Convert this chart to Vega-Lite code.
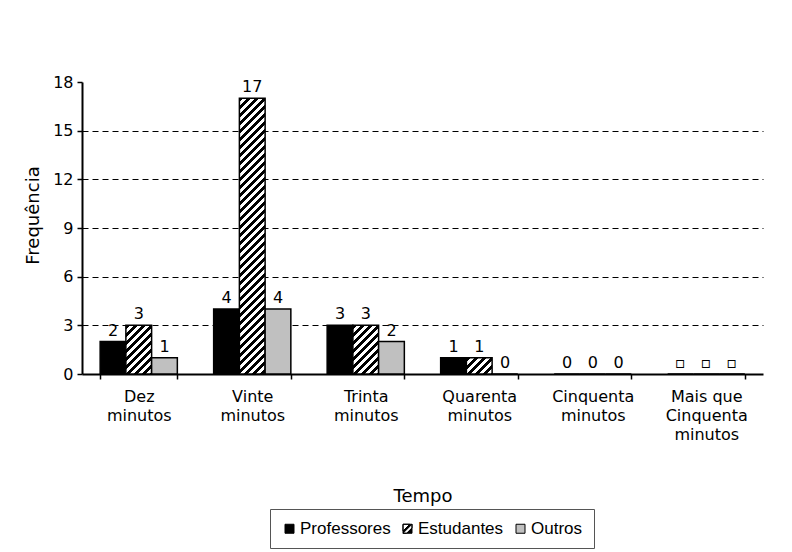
{
  "$schema": "https://vega.github.io/schema/vega-lite/v6.json",
  "width": 681,
  "height": 292,
  "autosize": {"type": "none"},
  "padding": {"left": 82, "top": 82, "right": 29, "bottom": 178},
  "background": "white",
  "config": {
    "font": "DejaVu Sans",
    "view": {"stroke": null},
    "axis": {
      "labelColor": "black",
      "labelFont": "DejaVu Sans",
      "labelFontSize": 15,
      "titleFont": "DejaVu Sans",
      "titleFontSize": 18,
      "titleFontWeight": "normal",
      "titleColor": "black",
      "domainColor": "black",
      "domainWidth": 2,
      "tickColor": "black",
      "tickWidth": 1.5,
      "tickSize": 5
    }
  },
  "data": {
    "values": [
      {"tempo": "Dez minutos", "grupo": "Professores", "valor": 2, "rotulo": "2"},
      {"tempo": "Dez minutos", "grupo": "Estudantes", "valor": 3, "rotulo": "3"},
      {"tempo": "Dez minutos", "grupo": "Outros", "valor": 1, "rotulo": "1"},
      {"tempo": "Vinte minutos", "grupo": "Professores", "valor": 4, "rotulo": "4"},
      {"tempo": "Vinte minutos", "grupo": "Estudantes", "valor": 17, "rotulo": "17"},
      {"tempo": "Vinte minutos", "grupo": "Outros", "valor": 4, "rotulo": "4"},
      {"tempo": "Trinta minutos", "grupo": "Professores", "valor": 3, "rotulo": "3"},
      {"tempo": "Trinta minutos", "grupo": "Estudantes", "valor": 3, "rotulo": "3"},
      {"tempo": "Trinta minutos", "grupo": "Outros", "valor": 2, "rotulo": "2"},
      {"tempo": "Quarenta minutos", "grupo": "Professores", "valor": 1, "rotulo": "1"},
      {"tempo": "Quarenta minutos", "grupo": "Estudantes", "valor": 1, "rotulo": "1"},
      {"tempo": "Quarenta minutos", "grupo": "Outros", "valor": 0, "rotulo": "0"},
      {"tempo": "Cinquenta minutos", "grupo": "Professores", "valor": 0, "rotulo": "0"},
      {"tempo": "Cinquenta minutos", "grupo": "Estudantes", "valor": 0, "rotulo": "0"},
      {"tempo": "Cinquenta minutos", "grupo": "Outros", "valor": 0, "rotulo": "0"},
      {"tempo": "Mais que Cinquenta minutos", "grupo": "Professores", "valor": 0, "rotulo": "▫"},
      {"tempo": "Mais que Cinquenta minutos", "grupo": "Estudantes", "valor": 0, "rotulo": "▫"},
      {"tempo": "Mais que Cinquenta minutos", "grupo": "Outros", "valor": 0, "rotulo": "▫"}
    ]
  },
  "encoding": {
    "x": {
      "field": "tempo",
      "type": "nominal",
      "sort": ["Dez minutos", "Vinte minutos", "Trinta minutos", "Quarenta minutos", "Cinquenta minutos", "Mais que Cinquenta minutos"],
      "scale": {"paddingInner": 0.32, "paddingOuter": 0.16},
      "title": "Tempo",
      "axis": {
        "labelAngle": 0,
        "tickBand": "extent",
        "labelPadding": 9,
        "labelLineHeight": 19,
        "labelFontSize": 16,
        "titlePadding": 45,
        "labelExpr": "datum.label == 'Mais que Cinquenta minutos' ? ['Mais que', 'Cinquenta', 'minutos'] : split(datum.label, ' ')"
      }
    },
    "xOffset": {
      "field": "grupo",
      "type": "nominal",
      "sort": ["Professores", "Estudantes", "Outros"],
      "scale": {"paddingInner": 0, "paddingOuter": 0}
    },
    "y": {
      "field": "valor",
      "type": "quantitative",
      "scale": {"domain": [0, 18], "nice": false},
      "title": "Frequência",
      "axis": {
        "values": [0, 3, 6, 9, 12, 15, 18],
        "grid": true,
        "gridColor": "black",
        "gridDash": [6, 4],
        "gridWidth": 1,
        "gridOpacity": {"condition": {"test": "datum.value == 18 || datum.value == 0", "value": 0}, "value": 1},
        "labelPadding": 4,
        "labelFontSize": 16,
        "titlePadding": 10,
        "titleY": 133
      }
    }
  },
  "layer": [
    {
      "mark": {"type": "bar", "stroke": "black", "strokeWidth": 1.5},
      "encoding": {
        "fill": {
          "condition": [
            {"test": "datum.grupo == 'Estudantes' && datum.valor == 17", "value": {"gradient": "linear", "x1": 0, "y1": 0, "x2": 0.13416, "y2": 1.43794, "stops": [
              {"offset":0,"color":"#000"},{"offset":0.01,"color":"#000"},{"offset":0.01,"color":"#fff"},{"offset":0.02,"color":"#fff"},
              {"offset":0.02,"color":"#000"},{"offset":0.03,"color":"#000"},{"offset":0.03,"color":"#fff"},{"offset":0.04,"color":"#fff"},
              {"offset":0.04,"color":"#000"},{"offset":0.05,"color":"#000"},{"offset":0.05,"color":"#fff"},{"offset":0.06,"color":"#fff"},
              {"offset":0.06,"color":"#000"},{"offset":0.07,"color":"#000"},{"offset":0.07,"color":"#fff"},{"offset":0.08,"color":"#fff"},
              {"offset":0.08,"color":"#000"},{"offset":0.09,"color":"#000"},{"offset":0.09,"color":"#fff"},{"offset":0.10,"color":"#fff"},
              {"offset":0.10,"color":"#000"},{"offset":0.11,"color":"#000"},{"offset":0.11,"color":"#fff"},{"offset":0.12,"color":"#fff"},
              {"offset":0.12,"color":"#000"},{"offset":0.13,"color":"#000"},{"offset":0.13,"color":"#fff"},{"offset":0.14,"color":"#fff"},
              {"offset":0.14,"color":"#000"},{"offset":0.15,"color":"#000"},{"offset":0.15,"color":"#fff"},{"offset":0.16,"color":"#fff"},
              {"offset":0.16,"color":"#000"},{"offset":0.17,"color":"#000"},{"offset":0.17,"color":"#fff"},{"offset":0.18,"color":"#fff"},
              {"offset":0.18,"color":"#000"},{"offset":0.19,"color":"#000"},{"offset":0.19,"color":"#fff"},{"offset":0.20,"color":"#fff"},
              {"offset":0.20,"color":"#000"},{"offset":0.21,"color":"#000"},{"offset":0.21,"color":"#fff"},{"offset":0.22,"color":"#fff"},
              {"offset":0.22,"color":"#000"},{"offset":0.23,"color":"#000"},{"offset":0.23,"color":"#fff"},{"offset":0.24,"color":"#fff"},
              {"offset":0.24,"color":"#000"},{"offset":0.25,"color":"#000"},{"offset":0.25,"color":"#fff"},{"offset":0.26,"color":"#fff"},
              {"offset":0.26,"color":"#000"},{"offset":0.27,"color":"#000"},{"offset":0.27,"color":"#fff"},{"offset":0.28,"color":"#fff"},
              {"offset":0.28,"color":"#000"},{"offset":0.29,"color":"#000"},{"offset":0.29,"color":"#fff"},{"offset":0.30,"color":"#fff"},
              {"offset":0.30,"color":"#000"},{"offset":0.31,"color":"#000"},{"offset":0.31,"color":"#fff"},{"offset":0.32,"color":"#fff"},
              {"offset":0.32,"color":"#000"},{"offset":0.33,"color":"#000"},{"offset":0.33,"color":"#fff"},{"offset":0.34,"color":"#fff"},
              {"offset":0.34,"color":"#000"},{"offset":0.35,"color":"#000"},{"offset":0.35,"color":"#fff"},{"offset":0.36,"color":"#fff"},
              {"offset":0.36,"color":"#000"},{"offset":0.37,"color":"#000"},{"offset":0.37,"color":"#fff"},{"offset":0.38,"color":"#fff"},
              {"offset":0.38,"color":"#000"},{"offset":0.39,"color":"#000"},{"offset":0.39,"color":"#fff"},{"offset":0.40,"color":"#fff"},
              {"offset":0.40,"color":"#000"},{"offset":0.41,"color":"#000"},{"offset":0.41,"color":"#fff"},{"offset":0.42,"color":"#fff"},
              {"offset":0.42,"color":"#000"},{"offset":0.43,"color":"#000"},{"offset":0.43,"color":"#fff"},{"offset":0.44,"color":"#fff"},
              {"offset":0.44,"color":"#000"},{"offset":0.45,"color":"#000"},{"offset":0.45,"color":"#fff"},{"offset":0.46,"color":"#fff"},
              {"offset":0.46,"color":"#000"},{"offset":0.47,"color":"#000"},{"offset":0.47,"color":"#fff"},{"offset":0.48,"color":"#fff"},
              {"offset":0.48,"color":"#000"},{"offset":0.49,"color":"#000"},{"offset":0.49,"color":"#fff"},{"offset":0.50,"color":"#fff"},
              {"offset":0.50,"color":"#000"},{"offset":0.51,"color":"#000"},{"offset":0.51,"color":"#fff"},{"offset":0.52,"color":"#fff"},
              {"offset":0.52,"color":"#000"},{"offset":0.53,"color":"#000"},{"offset":0.53,"color":"#fff"},{"offset":0.54,"color":"#fff"},
              {"offset":0.54,"color":"#000"},{"offset":0.55,"color":"#000"},{"offset":0.55,"color":"#fff"},{"offset":0.56,"color":"#fff"},
              {"offset":0.56,"color":"#000"},{"offset":0.57,"color":"#000"},{"offset":0.57,"color":"#fff"},{"offset":0.58,"color":"#fff"},
              {"offset":0.58,"color":"#000"},{"offset":0.59,"color":"#000"},{"offset":0.59,"color":"#fff"},{"offset":0.60,"color":"#fff"},
              {"offset":0.60,"color":"#000"},{"offset":0.61,"color":"#000"},{"offset":0.61,"color":"#fff"},{"offset":0.62,"color":"#fff"},
              {"offset":0.62,"color":"#000"},{"offset":0.63,"color":"#000"},{"offset":0.63,"color":"#fff"},{"offset":0.64,"color":"#fff"},
              {"offset":0.64,"color":"#000"},{"offset":0.65,"color":"#000"},{"offset":0.65,"color":"#fff"},{"offset":0.66,"color":"#fff"},
              {"offset":0.66,"color":"#000"},{"offset":0.67,"color":"#000"},{"offset":0.67,"color":"#fff"},{"offset":0.68,"color":"#fff"},
              {"offset":0.68,"color":"#000"},{"offset":0.69,"color":"#000"},{"offset":0.69,"color":"#fff"},{"offset":0.70,"color":"#fff"},
              {"offset":0.70,"color":"#000"},{"offset":0.71,"color":"#000"},{"offset":0.71,"color":"#fff"},{"offset":0.72,"color":"#fff"},
              {"offset":0.72,"color":"#000"},{"offset":0.73,"color":"#000"},{"offset":0.73,"color":"#fff"},{"offset":0.74,"color":"#fff"},
              {"offset":0.74,"color":"#000"},{"offset":0.75,"color":"#000"},{"offset":0.75,"color":"#fff"},{"offset":0.76,"color":"#fff"}
            ]}},
            {"test": "datum.grupo == 'Estudantes' && datum.valor == 3", "value": {"gradient": "linear", "x1": 0, "y1": 0, "x2": 3.3962, "y2": 6.4236, "stops": [
              {"offset":0,"color":"#000"},{"offset":0.01,"color":"#000"},{"offset":0.01,"color":"#fff"},{"offset":0.02,"color":"#fff"},
              {"offset":0.02,"color":"#000"},{"offset":0.03,"color":"#000"},{"offset":0.03,"color":"#fff"},{"offset":0.04,"color":"#fff"},
              {"offset":0.04,"color":"#000"},{"offset":0.05,"color":"#000"},{"offset":0.05,"color":"#fff"},{"offset":0.06,"color":"#fff"},
              {"offset":0.06,"color":"#000"},{"offset":0.07,"color":"#000"},{"offset":0.07,"color":"#fff"},{"offset":0.08,"color":"#fff"},
              {"offset":0.08,"color":"#000"},{"offset":0.09,"color":"#000"},{"offset":0.09,"color":"#fff"},{"offset":0.10,"color":"#fff"},
              {"offset":0.10,"color":"#000"},{"offset":0.11,"color":"#000"},{"offset":0.11,"color":"#fff"},{"offset":0.12,"color":"#fff"},
              {"offset":0.12,"color":"#000"},{"offset":0.13,"color":"#000"},{"offset":0.13,"color":"#fff"},{"offset":0.14,"color":"#fff"},
              {"offset":0.14,"color":"#000"},{"offset":0.15,"color":"#000"},{"offset":0.15,"color":"#fff"},{"offset":0.16,"color":"#fff"},
              {"offset":0.16,"color":"#000"},{"offset":0.17,"color":"#000"},{"offset":0.17,"color":"#fff"},{"offset":0.18,"color":"#fff"},
              {"offset":0.18,"color":"#000"},{"offset":0.19,"color":"#000"},{"offset":0.19,"color":"#fff"},{"offset":0.20,"color":"#fff"}
            ]}},
            {"test": "datum.grupo == 'Estudantes' && datum.valor == 1", "value": {"gradient": "linear", "x1": 0, "y1": 0, "x2": 11.124, "y2": 7.0135, "stops": [
              {"offset":0,"color":"#000"},{"offset":0.01,"color":"#000"},{"offset":0.01,"color":"#fff"},{"offset":0.02,"color":"#fff"},
              {"offset":0.02,"color":"#000"},{"offset":0.03,"color":"#000"},{"offset":0.03,"color":"#fff"},{"offset":0.04,"color":"#fff"},
              {"offset":0.04,"color":"#000"},{"offset":0.05,"color":"#000"},{"offset":0.05,"color":"#fff"},{"offset":0.06,"color":"#fff"},
              {"offset":0.06,"color":"#000"},{"offset":0.07,"color":"#000"},{"offset":0.07,"color":"#fff"},{"offset":0.08,"color":"#fff"},
              {"offset":0.08,"color":"#000"},{"offset":0.09,"color":"#000"},{"offset":0.09,"color":"#fff"},{"offset":0.10,"color":"#fff"},
              {"offset":0.10,"color":"#000"},{"offset":0.11,"color":"#000"},{"offset":0.11,"color":"#fff"},{"offset":0.12,"color":"#fff"}
            ]}}
          ],
          "field": "grupo",
          "type": "nominal",
          "sort": ["Professores", "Estudantes", "Outros"],
          "scale": {
            "domain": ["Professores", "Estudantes", "Outros"],
            "range": ["#000000", "#000000", "#c0c0c0"]
          },
          "legend": {
            "title": null,
            "orient": "none",
            "direction": "horizontal",
            "legendX": 188,
            "legendY": 427,
            "strokeColor": "#555555",
            "padding": 11,
            "symbolType": "square",
            "symbolSize": 81,
            "symbolStrokeColor": "black",
            "symbolStrokeWidth": 1,
            "labelFont": "Liberation Sans",
            "labelFontSize": 17,
            "labelColor": "black",
            "labelOffset": 2,
            "columnPadding": 8,
            "encode": {
              "symbols": {
                "update": {
                  "stroke": {"value": "black"},
                  "strokeWidth": {"value": 1},
                  "shape": [
                    {"test": "datum.label == 'Estudantes'", "value": "M-1,-1L1,-1L1,1L-1,1Z M-1,-1L-1,0.5L0.5,-1Z M-1,1L-0.2,1L1,-0.2L1,-1Z"},
                    {"value": "square"}
                  ]
                }
              }
            }
          }
        }
      }
    },
    {
      "mark": {"type": "text", "fontSize": 16, "baseline": "alphabetic", "dy": -6, "color": "black", "font": "DejaVu Sans"},
      "encoding": {
        "text": {"field": "rotulo", "type": "nominal"}
      }
    }
  ]
}
